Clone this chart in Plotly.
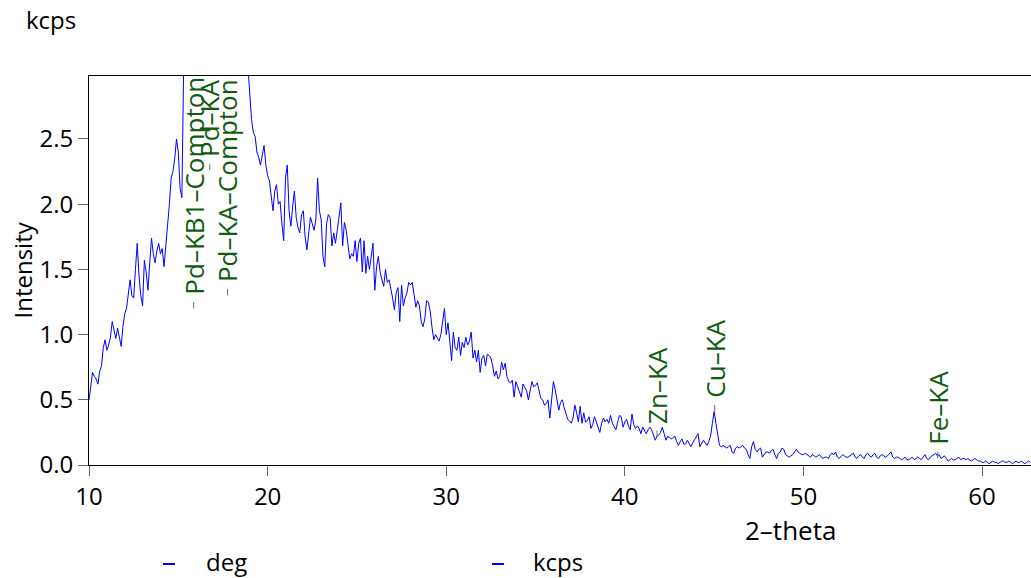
import numpy as np
import plotly.graph_objects as go

# Scan definition (2-theta, degrees)
two_theta_start = 10.0
two_theta_step = 0.1

# Measured intensity, kcps, one row per degree
kcps = [
    0.50, 0.63, 0.71, 0.68, 0.66, 0.62, 0.72, 0.76, 0.90, 0.96,  # 10
    0.88, 0.92, 0.98, 1.10, 1.02, 0.97, 1.05, 0.98, 0.91, 1.06,  # 11
    1.16, 1.20, 1.32, 1.42, 1.30, 1.28, 1.50, 1.70, 1.45, 1.30,  # 12
    1.22, 1.57, 1.48, 1.34, 1.55, 1.74, 1.62, 1.55, 1.64, 1.70,  # 13
    1.62, 1.66, 1.52, 1.72, 1.84, 2.00, 2.20, 2.25, 2.35, 2.50,  # 14
    2.40, 2.12, 2.05, 3.05, 3.40, 3.70, 4.00, 4.35, 4.70, 4.85,  # 15
    4.70, 4.55, 4.60, 4.90, 5.30, 6.00, 6.80, 7.30, 7.00, 6.30,  # 16
    5.80, 5.60, 5.70, 6.00, 6.40, 6.80, 7.10, 7.30, 7.20, 6.80,  # 17
    6.20, 5.60, 5.00, 4.50, 4.10, 3.80, 3.50, 3.30, 3.15, 3.05,  # 18
    2.85, 2.65, 2.55, 2.52, 2.40, 2.36, 2.30, 2.38, 2.45, 2.30,  # 19
    2.22, 2.18, 2.05, 1.95, 2.10, 2.15, 2.00, 2.02, 1.85, 1.72,  # 20
    2.20, 2.30, 1.95, 1.83, 1.98, 2.10, 1.90, 1.82, 1.78, 1.92,  # 21
    1.95, 1.75, 1.65, 1.80, 1.90, 1.85, 1.80, 1.88, 2.20, 1.95,  # 22
    1.88, 1.60, 1.52, 1.85, 1.92, 1.90, 1.68, 1.78, 1.70, 1.80,  # 23
    1.90, 2.01, 1.68, 1.86, 1.80, 1.67, 1.58, 1.62, 1.60, 1.72,  # 24
    1.56, 1.70, 1.74, 1.48, 1.72, 1.47, 1.60, 1.50, 1.62, 1.70,  # 25
    1.34, 1.52, 1.60, 1.48, 1.42, 1.37, 1.50, 1.40, 1.42, 1.36,  # 26
    1.28, 1.19, 1.32, 1.36, 1.10, 1.38, 1.22, 1.28, 1.32, 1.40,  # 27
    1.38, 1.40, 1.28, 1.21, 1.26, 1.22, 1.10, 1.06, 1.12, 1.26,  # 28
    1.25, 1.18, 1.06, 0.96, 1.00, 0.98, 0.95, 1.00, 1.10, 1.20,  # 29
    1.00, 1.09, 0.95, 0.80, 1.02, 0.90, 0.88, 0.98, 0.84, 0.94,  # 30
    0.90, 0.98, 0.92, 0.95, 1.02, 0.82, 0.88, 0.79, 0.88, 0.71,  # 31
    0.82, 0.84, 0.76, 0.85, 0.84, 0.82, 0.76, 0.68, 0.72, 0.66,  # 32
    0.68, 0.79, 0.73, 0.78, 0.68, 0.64, 0.63, 0.65, 0.52, 0.64,  # 33
    0.60, 0.55, 0.52, 0.62, 0.60, 0.57, 0.50, 0.58, 0.64, 0.60,  # 34
    0.61, 0.63, 0.57, 0.51, 0.50, 0.46, 0.47, 0.50, 0.36, 0.52,  # 35
    0.64, 0.58, 0.50, 0.42, 0.48, 0.50, 0.44, 0.40, 0.35, 0.34,  # 36
    0.32, 0.36, 0.46, 0.40, 0.33, 0.45, 0.32, 0.40, 0.33, 0.34,  # 37
    0.37, 0.28, 0.31, 0.37, 0.33, 0.29, 0.25, 0.32, 0.36, 0.33,  # 38
    0.35, 0.32, 0.38, 0.32, 0.30, 0.27, 0.33, 0.38, 0.37, 0.29,  # 39
    0.33, 0.35, 0.30, 0.27, 0.39, 0.31, 0.28, 0.30, 0.28, 0.24,  # 40
    0.29, 0.26, 0.24, 0.27, 0.29, 0.27, 0.22, 0.19, 0.22, 0.23,  # 41
    0.25, 0.29, 0.24, 0.19, 0.22, 0.21, 0.20, 0.21, 0.22, 0.18,  # 42
    0.15, 0.18, 0.20, 0.16, 0.16, 0.19, 0.17, 0.14, 0.17, 0.19,  # 43
    0.21, 0.24, 0.14, 0.16, 0.19, 0.17, 0.15, 0.18, 0.22, 0.32,  # 44
    0.41, 0.32, 0.23, 0.15, 0.14, 0.15, 0.14, 0.13, 0.14, 0.15,  # 45
    0.10, 0.09, 0.13, 0.14, 0.13, 0.14, 0.15, 0.13, 0.12, 0.08,  # 46
    0.05, 0.14, 0.18, 0.12, 0.10, 0.12, 0.13, 0.06, 0.08, 0.10,  # 47
    0.10, 0.09, 0.11, 0.12, 0.08, 0.05, 0.09, 0.10, 0.13, 0.12,  # 48
    0.08, 0.07, 0.06, 0.07, 0.08, 0.10, 0.12, 0.10, 0.09, 0.08,  # 49
    0.08, 0.09, 0.08, 0.07, 0.06, 0.08, 0.07, 0.06, 0.07, 0.08,  # 50
    0.06, 0.05, 0.06, 0.06, 0.05, 0.08, 0.09, 0.08, 0.10, 0.06,  # 51
    0.05, 0.07, 0.08, 0.07, 0.06, 0.06, 0.07, 0.08, 0.09, 0.06,  # 52
    0.05, 0.07, 0.08, 0.06, 0.05, 0.08, 0.09, 0.07, 0.06, 0.08,  # 53
    0.09, 0.06, 0.05, 0.07, 0.08, 0.07, 0.06, 0.07, 0.09, 0.10,  # 54
    0.06, 0.05, 0.06, 0.06, 0.05, 0.04, 0.05, 0.06, 0.04, 0.04,  # 55
    0.05, 0.06, 0.04, 0.05, 0.06, 0.05, 0.04, 0.06, 0.08, 0.05,  # 56
    0.04, 0.06, 0.07, 0.08, 0.09, 0.07, 0.08, 0.05, 0.06, 0.07,  # 57
    0.05, 0.03, 0.04, 0.05, 0.04, 0.04, 0.05, 0.06, 0.04, 0.05,  # 58
    0.05, 0.04, 0.05, 0.04, 0.03, 0.04, 0.05, 0.04, 0.03, 0.03,  # 59
    0.02, 0.02, 0.03, 0.02, 0.01, 0.02, 0.03, 0.02, 0.02, 0.01,  # 60
    0.02, 0.03, 0.03, 0.02, 0.02, 0.03, 0.02, 0.01, 0.02, 0.03,  # 61
    0.02, 0.02, 0.03, 0.02, 0.01, 0.02, 0.03, 0.02,              # 62
]

# Identified lines: name, 2-theta position, height of the line marker base
peak_names = ["Pd–KB1–Compton", "Pd–KA", "Pd–KA–Compton", "Zn–KA", "Cu–KA", "Fe–KA"]
peak_pos = [15.86, 16.76, 17.76, 41.80, 45.03, 57.52]
peak_base = [1.20, 2.26, 1.30, 0.215, 0.41, 0.05]
marker_len = 0.05

x_ticks = [10, 20, 30, 40, 50, 60]
y_ticks = [0.0, 0.5, 1.0, 1.5, 2.0, 2.5]
legend_labels = ["deg", "kcps"]

two_theta = np.round(two_theta_start + two_theta_step * np.arange(len(kcps)), 2)

FONT = "Open Sans"
LABEL_GREEN = "#0f5c0f"
TXT = 24
W, H = 1031, 578
L, R, T, B = 89, 0, 76, 113

fig = go.Figure()
fig.add_trace(go.Scatter(
    x=two_theta, y=kcps, mode="lines",
    line=dict(color="#0000ff", width=1),
    showlegend=False, hoverinfo="x+y",
))

# short vertical tick marking each identified line
mx, my = [], []
for p, b in zip(peak_pos, peak_base):
    mx += [p, p, None]
    my += [b, b + marker_len, None]
fig.add_trace(go.Scatter(
    x=mx, y=my, mode="lines",
    line=dict(color="#4f7f4f", width=1),
    showlegend=False, hoverinfo="skip",
))

annotations = []
for name, p, b in zip(peak_names, peak_pos, peak_base):
    annotations.append(dict(
        x=p, y=b + marker_len, xref="x", yref="y",
        text=name, textangle=-90, showarrow=False,
        xanchor="center", yanchor="bottom", yshift=5,
        font=dict(family=FONT, size=26, color=LABEL_GREEN),
    ))

pw = W - L - R
ph = H - T - B


def px_x(px):
    return (px - L) / pw


def px_y(py):
    return (H - B - py) / ph


annotations += [
    dict(text="kcps", x=px_x(24), y=px_y(20), xref="paper", yref="paper",
         xanchor="left", yanchor="middle", showarrow=False,
         font=dict(family=FONT, size=TXT, color="#000")),
    dict(text="Intensity", x=px_x(22), y=0.5, xref="paper", yref="paper",
         xanchor="center", yanchor="middle", textangle=-90, showarrow=False,
         font=dict(family=FONT, size=TXT, color="#000")),
    dict(text="2–theta", x=px_x(790), y=px_y(530), xref="paper", yref="paper",
         xanchor="center", yanchor="middle", showarrow=False,
         font=dict(family=FONT, size=26, color="#000")),
]

# legend entries drawn as a short blue dash followed by the label
shapes = []
legend_dash_px = [163, 492]
legend_text_px = [204, 531]
legend_y_px = 561
for lab, dpx, tpx in zip(legend_labels, legend_dash_px, legend_text_px):
    shapes.append(dict(type="line", xref="paper", yref="paper",
                       x0=px_x(dpx), x1=px_x(dpx + 12),
                       y0=px_y(legend_y_px + 3), y1=px_y(legend_y_px + 3),
                       line=dict(color="#0000ff", width=2)))
    annotations.append(dict(text=lab, x=px_x(tpx), y=px_y(legend_y_px),
                            xref="paper", yref="paper",
                            xanchor="left", yanchor="middle", showarrow=False,
                            font=dict(family=FONT, size=TXT, color="#000")))

fig.update_layout(
    width=W, height=H,
    margin=dict(l=L, r=R, t=T, b=B, pad=0),
    paper_bgcolor="white", plot_bgcolor="white",
    font=dict(family=FONT, size=TXT, color="#000"),
    showlegend=False,
    annotations=annotations,
    shapes=shapes,
    xaxis=dict(
        range=[10, 62.74], tickvals=x_ticks, ticks="outside", ticklen=10,
        tickcolor="#666", tickwidth=1, showgrid=False, zeroline=False,
        showline=True, linecolor="#000", linewidth=1, mirror=True,
        tickfont=dict(family=FONT, size=TXT, color="#000"),
    ),
    yaxis=dict(
        range=[0, 2.983], tickvals=y_ticks, tickformat=".1f", ticks="outside",
        ticklen=10, tickcolor="#666", tickwidth=1, showgrid=False, zeroline=False,
        showline=True, linecolor="#000", linewidth=1,
        tickfont=dict(family=FONT, size=TXT, color="#000"),
    ),
)

fig.write_html("out.html")
